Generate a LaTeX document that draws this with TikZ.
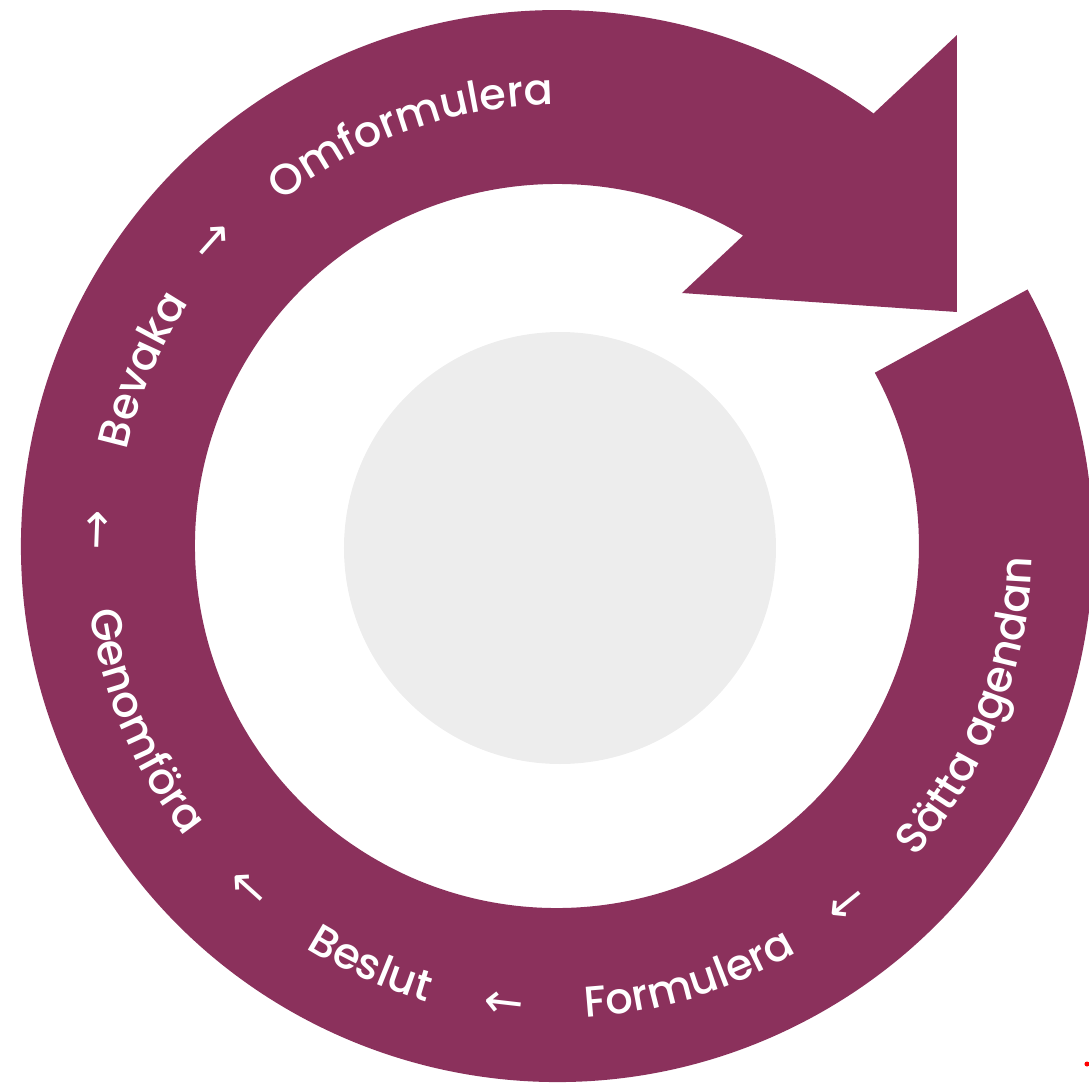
\documentclass[tikz,border=0pt]{standalone}
\usepackage{fontspec}
\setmainfont{Poppins Medium}
\newfontfamily\arrowfont{DejaVu Sans}
\usetikzlibrary{decorations.text}
\definecolor{ringpurple}{RGB}{139,49,92}
\definecolor{hubgrey}{RGB}{237,237,237}
\newcommand\wordfont{\fontsize{12.3pt}{15pt}\selectfont}

\begin{document}
\begin{tikzpicture} [x=0.1mm, y=0.1mm,
        every node/.style = {text=white, inner sep=0pt, font=\arrowfont\fontsize{13.5pt}{13.5pt}\selectfont},
        ringword/.style = {decorate, decoration={text along path, text align=center, text color=white, text={|\wordfont|#1}}}]
        \useasboundingbox (-557,-540) rectangle (532,546);
        \clip (-557,-540) rectangle (532,546);
        % ring with its head
        \fill[ringpurple] (28.6:536) arc[start angle=28.6, end angle=-306.2, radius=536]
            -- (400,511) -- (400,234) -- (125,253) -- (59.05:362)
            arc[start angle=59.05, end angle=388.6, radius=362] -- cycle;
        \fill[hubgrey] (3,-2) circle (216);
        % upper words, tops outward
        \path[ringword=Omformulera] (144.5:441) arc[start angle=144.5, end angle=74.5, radius=441];
        \path[ringword=Bevaka] (192:441) arc[start angle=192, end angle=122, radius=441];
        % lower words, tops inward
        \path[ringword=Genomföra] (168:472) arc[start angle=168, end angle=238, radius=472];
        \path[ringword=Beslut] (211:474) arc[start angle=211, end angle=281, radius=474];
        \path[ringword=Formulera] (252:472) arc[start angle=252, end angle=322, radius=472];
        \path[ringword={Sätta agendan}] (303.8:475) arc[start angle=303.8, end angle=373.8, radius=475];
        % arrows between the steps
        \node[rotate=88] (toBevaka) at (178:458) {→};
        \node[rotate=48.4] (toOmformulera) at (138.4:458) {→};
        \node[rotate=138] (toGenomfora) at (228:458) {→};
        \node[rotate=173.4] (toBeslut) at (263.4:458) {→};
        \node[rotate=219] (toFormulera) at (309:458) {→};
        \fill[red] (530,-518) circle (2.5);
    \end{tikzpicture}
\end{document}
